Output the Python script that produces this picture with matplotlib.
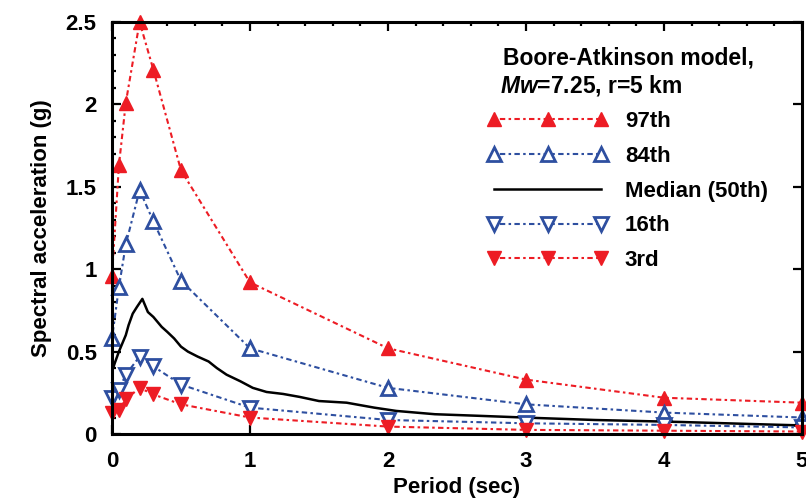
import numpy as np
import matplotlib
matplotlib.use("Agg")
import matplotlib.pyplot as plt
from matplotlib.ticker import MultipleLocator, FormatStrFormatter

plt.rcParams['font.family'] = ['Liberation Sans', 'DejaVu Sans']
plt.rcParams['font.weight'] = 'bold'
plt.rcParams['mathtext.fontset'] = 'custom'
plt.rcParams['mathtext.it'] = 'Liberation Sans:italic:bold'
plt.rcParams['mathtext.rm'] = 'Liberation Sans:bold'

# 分位数曲线的周期点 (sec)
period_pts = [0, 0.05, 0.1, 0.2, 0.3, 0.5, 1, 2, 3, 4, 5]
p97 = [0.96, 1.63, 2.01, 2.50, 2.21, 1.60, 0.92, 0.52, 0.33, 0.22, 0.19]
p84 = [0.58, 0.89, 1.15, 1.48, 1.29, 0.93, 0.52, 0.28, 0.18, 0.13, 0.10]
p16 = [0.22, 0.27, 0.36, 0.47, 0.41, 0.30, 0.16, 0.085, 0.065, 0.055, 0.04]
p03 = [0.13, 0.145, 0.21, 0.28, 0.24, 0.18, 0.10, 0.045, 0.025, 0.02, 0.015]

# 中值曲线 (更密的采样)
period_med = [0.0, 0.02, 0.05, 0.075, 0.1, 0.12, 0.15, 0.18, 0.22, 0.26, 0.3, 0.36,
              0.4, 0.45, 0.5, 0.55, 0.62, 0.7, 0.76, 0.83, 0.93, 1.02, 1.12, 1.24,
              1.36, 1.5, 1.7, 1.9, 2.06, 2.34, 2.67, 3.05, 3.5, 4.12, 4.74, 5.0]
median = [0.38, 0.43, 0.50, 0.55, 0.60, 0.66, 0.73, 0.77, 0.82, 0.74, 0.71, 0.65,
          0.62, 0.58, 0.53, 0.50, 0.47, 0.44, 0.40, 0.36, 0.32, 0.28, 0.255, 0.243,
          0.225, 0.20, 0.19, 0.16, 0.14, 0.12, 0.11, 0.098, 0.085, 0.073, 0.058, 0.052]

labels = ['97th', '84th', 'Median (50th)', '16th', '3rd']

red = '#ED1C24'
blue = '#2E4FA0'
dash = (0, (1.2, 1.6, 2.6, 1.6))

fig = plt.figure(figsize=(8.06, 5.03), dpi=100)
ax = fig.add_axes([112/806, 69/503, 690/806, 412/503])

kw = dict(lw=1.5, ls=dash, markersize=10, clip_on=False)
ax.plot(period_pts, p97, color=red, marker='^', mfc=red, mec=red, label=labels[0], **kw)
ax.plot(period_pts, p84, color=blue, marker='^', mfc='white', mec=blue, mew=2,
        label=labels[1], **kw)
ax.plot(period_med, median, color='black', lw=1.8, label=labels[2])
ax.plot(period_pts, p16, color=blue, marker='v', mfc='white', mec=blue, mew=2,
        label=labels[3], **kw)
ax.plot(period_pts, p03, color=red, marker='v', mfc=red, mec=red, label=labels[4], **kw)

ax.set_xlim(0, 5)
ax.set_ylim(0, 2.5)
ax.xaxis.set_major_locator(MultipleLocator(1))
ax.xaxis.set_minor_locator(MultipleLocator(0.2))
ax.yaxis.set_major_locator(MultipleLocator(0.5))
ax.yaxis.set_minor_locator(MultipleLocator(0.1))
ax.yaxis.set_major_formatter(FormatStrFormatter('%g'))

ax.tick_params(which='both', direction='in', top=True, right=True, width=1.6)
ax.tick_params(which='major', length=6.5, labelsize=16)
ax.tick_params(which='minor', length=3, bottom=False, right=False)
ax.tick_params(axis='x', which='major', pad=12)
ax.tick_params(axis='y', which='major', pad=11)
for s in ax.spines.values():
    s.set_linewidth(2.2)

ax.set_xlabel('Period (sec)', fontsize=16, fontweight='bold', labelpad=4)
ax.set_ylabel('Spectral acceleration (g)', fontsize=16, fontweight='bold', labelpad=10)

fig.text(503/806, 1 - 47/503, 'Boore-Atkinson model,', fontsize=16.5, fontweight='bold',
         va='top', ha='left')
fig.text(500/806, 1 - 73/503, r'$Mw$=7.25, r=5 km', fontsize=16.5, fontweight='bold',
         va='top', ha='left')

leg = ax.legend(loc='upper left', bbox_to_anchor=((487 - 112)/690, 1 - (111 - 22)/412),
                frameon=False, fontsize=16, numpoints=3, handlelength=5.45,
                handletextpad=0.75, labelspacing=0.62, borderpad=0, borderaxespad=0)

fig.savefig('out.png', dpi=100)
